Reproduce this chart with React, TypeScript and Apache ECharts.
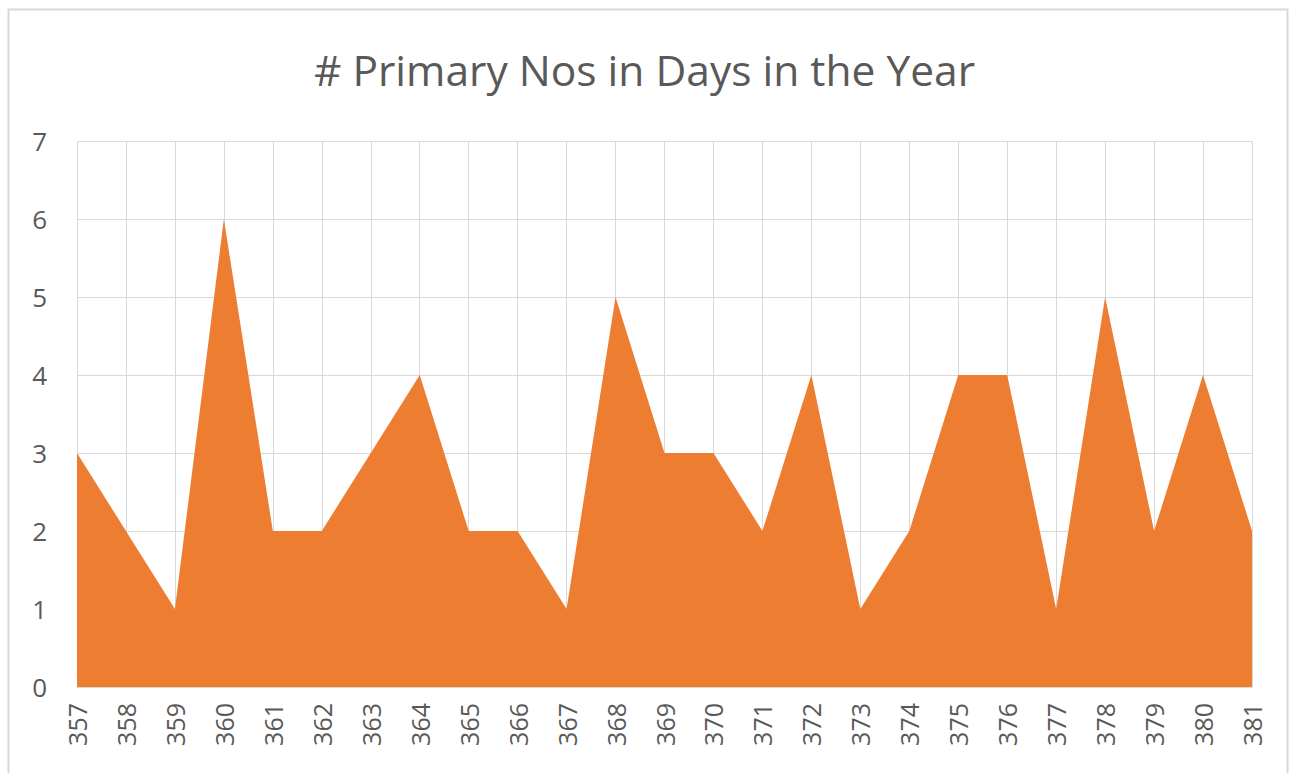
import React, { useEffect, useRef } from "react";
import * as echarts from "echarts";

const days = ["357","358","359","360","361","362","363","364","365","366","367","368","369","370","371","372","373","374","375","376","377","378","379","380","381"];
const counts = [3,2,1,6,2,2,3,4,2,2,1,5,3,3,2,4,1,2,4,4,1,5,2,4,2];
const titleText = "# Primary Nos in Days in the Year";

export default function App() {
  const ref = useRef<HTMLDivElement>(null);
  useEffect(() => {
    document.body.style.margin = "0";
    const chart = echarts.init(ref.current!, undefined, { renderer: "svg" });
    const font = "'Open Sans', 'Noto Sans', sans-serif";
    chart.setOption({
      animation: false,
      backgroundColor: "#ffffff",
      title: {
        text: titleText,
        left: "center",
        top: 43,
        textStyle: { fontFamily: font, fontSize: 42.5, fontWeight: "normal", color: "#595959" },
      },
      graphic: [
        {
          type: "rect",
          shape: { x: 8.5, y: 9.5, width: 1279, height: 775 },
          style: { fill: "none", stroke: "#d9d9d9", lineWidth: 2 },
          silent: true,
        },
      ],
      grid: { left: 77, right: 37, top: 141, bottom: 86, containLabel: false },
      xAxis: {
        type: "category",
        data: days,
        boundaryGap: false,
        axisLine: { show: true, lineStyle: { color: "#d9d9d9" } },
        axisTick: { show: false },
        axisLabel: { rotate: 90, fontSize: 25, color: "#595959", fontFamily: font, margin: 16, interval: 0 },
        splitLine: { show: true, interval: 0, lineStyle: { color: "#d9d9d9", width: 1 } },
      },
      yAxis: {
        type: "value",
        min: 0,
        max: 7,
        interval: 1,
        axisLine: { show: false },
        axisTick: { show: false },
        axisLabel: { fontSize: 26, color: "#595959", fontFamily: font, margin: 30 },
        splitLine: { show: true, lineStyle: { color: "#d9d9d9", width: 1 } },
      },
      series: [
        {
          type: "line",
          data: counts,
          symbol: "none",
          lineStyle: { width: 0, color: "#ED7D31" },
          itemStyle: { color: "#ED7D31" },
          areaStyle: { color: "#ED7D31", opacity: 1 },
        },
      ],
    });
    return () => chart.dispose();
  }, []);
  return <div ref={ref} style={{ width: 1289, height: 773 }} />;
}
